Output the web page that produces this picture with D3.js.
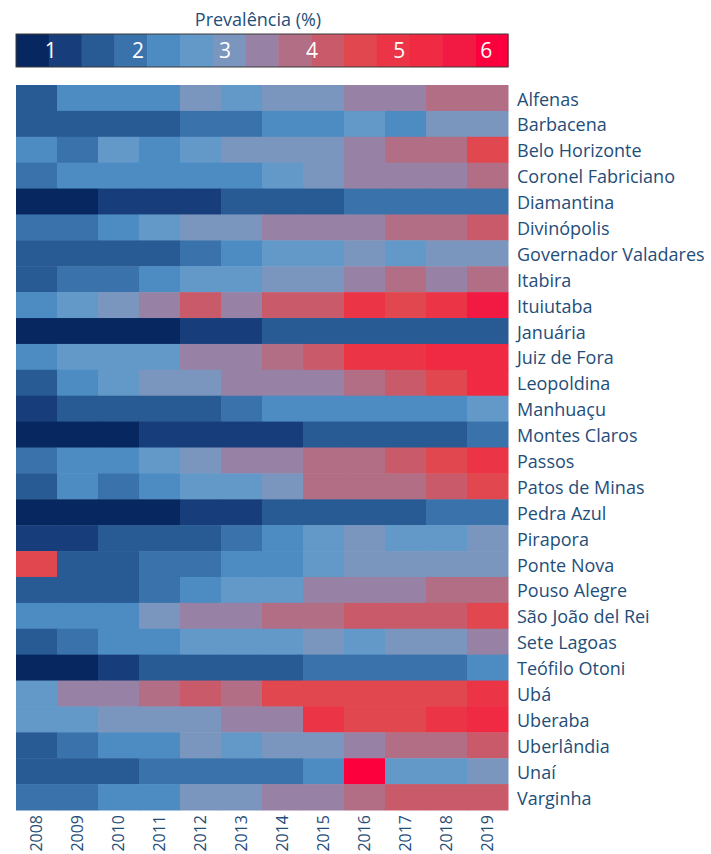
<!DOCTYPE html>
<html>
<head>
<meta charset="utf-8">
<script src="https://cdn.jsdelivr.net/npm/d3@7"></script>
<style>
  html, body { margin: 0; padding: 0; background: #fff; }
  svg { display: block; font-family: "Open Sans", Lato, sans-serif; }
</style>
</head>
<body>
<svg id="chart" width="711" height="854"></svg>
<script>
// Prevalência anual (%) por município, 2008–2019
const years = ["2008","2009","2010","2011","2012","2013","2014","2015","2016","2017","2018","2019"];

const cities = [
  "Alfenas", "Barbacena", "Belo Horizonte", "Coronel Fabriciano", "Diamantina",
  "Divinópolis", "Governador Valadares", "Itabira", "Ituiutaba", "Januária",
  "Juiz de Fora", "Leopoldina", "Manhuaçu", "Montes Claros", "Passos",
  "Patos de Minas", "Pedra Azul", "Pirapora", "Ponte Nova", "Pouso Alegre",
  "São João del Rei", "Sete Lagoas", "Teófilo Otoni", "Ubá", "Uberaba",
  "Uberlândia", "Unaí", "Varginha"
];

const prevalence = [
  [1.5, 2.3, 2.3, 2.3, 3.0, 2.7, 3.0, 3.0, 3.4, 3.4, 3.8, 3.8], // Alfenas
  [1.5, 1.5, 1.5, 1.5, 1.9, 1.9, 2.3, 2.3, 2.7, 2.3, 3.0, 3.0], // Barbacena
  [2.3, 1.9, 2.7, 2.3, 2.7, 3.0, 3.0, 3.0, 3.4, 3.8, 3.8, 4.5], // Belo Horizonte
  [1.9, 2.3, 2.3, 2.3, 2.3, 2.3, 2.7, 3.0, 3.4, 3.4, 3.4, 3.8], // Coronel Fabriciano
  [0.8, 0.8, 1.2, 1.2, 1.2, 1.5, 1.5, 1.5, 1.9, 1.9, 1.9, 1.9], // Diamantina
  [1.9, 1.9, 2.3, 2.7, 3.0, 3.0, 3.4, 3.4, 3.4, 3.8, 3.8, 4.2], // Divinópolis
  [1.5, 1.5, 1.5, 1.5, 1.9, 2.3, 2.7, 2.7, 3.0, 2.7, 3.0, 3.0], // Governador Valadares
  [1.5, 1.9, 1.9, 2.3, 2.7, 2.7, 3.0, 3.0, 3.4, 3.8, 3.4, 3.8], // Itabira
  [2.3, 2.7, 3.0, 3.4, 4.2, 3.4, 4.2, 4.2, 4.9, 4.5, 4.9, 5.7], // Ituiutaba
  [0.8, 0.8, 0.8, 0.8, 1.2, 1.2, 1.5, 1.5, 1.5, 1.5, 1.5, 1.5], // Januária
  [2.3, 2.7, 2.7, 2.7, 3.4, 3.4, 3.8, 4.2, 4.9, 4.9, 5.3, 5.3], // Juiz de Fora
  [1.5, 2.3, 2.7, 3.0, 3.0, 3.4, 3.4, 3.4, 3.8, 4.2, 4.5, 5.3], // Leopoldina
  [1.2, 1.5, 1.5, 1.5, 1.5, 1.9, 2.3, 2.3, 2.3, 2.3, 2.3, 2.7], // Manhuaçu
  [0.8, 0.8, 0.8, 1.2, 1.2, 1.2, 1.2, 1.5, 1.5, 1.5, 1.5, 1.9], // Montes Claros
  [1.9, 2.3, 2.3, 2.7, 3.0, 3.4, 3.4, 3.8, 3.8, 4.2, 4.5, 4.9], // Passos
  [1.5, 2.3, 1.9, 2.3, 2.7, 2.7, 3.0, 3.8, 3.8, 3.8, 4.2, 4.5], // Patos de Minas
  [0.8, 0.8, 0.8, 0.8, 1.2, 1.2, 1.5, 1.5, 1.5, 1.5, 1.9, 1.9], // Pedra Azul
  [1.2, 1.2, 1.5, 1.5, 1.5, 1.9, 2.3, 2.7, 3.0, 2.7, 2.7, 3.0], // Pirapora
  [4.5, 1.5, 1.5, 1.9, 1.9, 2.3, 2.3, 2.7, 3.0, 3.0, 3.0, 3.0], // Ponte Nova
  [1.5, 1.5, 1.5, 1.9, 2.3, 2.7, 2.7, 3.4, 3.4, 3.4, 3.8, 3.8], // Pouso Alegre
  [2.3, 2.3, 2.3, 3.0, 3.4, 3.4, 3.8, 3.8, 4.2, 4.2, 4.2, 4.5], // São João del Rei
  [1.5, 1.9, 2.3, 2.3, 2.7, 2.7, 2.7, 3.0, 2.7, 3.0, 3.0, 3.4], // Sete Lagoas
  [0.8, 0.8, 1.2, 1.5, 1.5, 1.5, 1.5, 1.9, 1.9, 1.9, 1.9, 2.3], // Teófilo Otoni
  [2.7, 3.4, 3.4, 3.8, 4.2, 3.8, 4.5, 4.5, 4.5, 4.5, 4.5, 4.9], // Ubá
  [2.7, 2.7, 3.0, 3.0, 3.0, 3.4, 3.4, 4.9, 4.5, 4.5, 4.9, 5.3], // Uberaba
  [1.5, 1.9, 2.3, 2.3, 3.0, 2.7, 3.0, 3.0, 3.4, 3.8, 3.8, 4.2], // Uberlândia
  [1.5, 1.5, 1.5, 1.9, 1.9, 1.9, 1.9, 2.3, 6.1, 2.7, 2.7, 3.0], // Unaí
  [1.9, 1.9, 2.3, 2.3, 3.0, 3.0, 3.4, 3.4, 3.8, 4.2, 4.2, 4.2]  // Varginha
];

// Escala de cores em 15 classes, do azul-marinho ao vermelho
const palette = [
  "#06275F", "#173E7A", "#285A94", "#3A73AB", "#4C8CC2",
  "#6399C9", "#7B96BE", "#9782A5", "#B16E84", "#C95A6A",
  "#E1474F", "#EB3446", "#F02A42", "#F21A42", "#FB003C"
];
const colorDomain = [0.6, 6.25];
const legendTicks = [1, 2, 3, 4, 5, 6];

const textColor = "#1F4E79";
const fontStack = "'Open Sans', Lato, sans-serif";
const svg = d3.select("#chart");

const plotLeft = 16, plotRight = 508, plotTop = 85, plotBottom = 810;

const x = d3.scaleBand().domain(years).range([plotLeft, plotRight]).padding(0);
const y = d3.scaleBand().domain(cities).range([plotTop, plotBottom]).padding(0);
const color = d3.scaleQuantize().domain(colorDomain).range(palette);

// Células do mapa de calor
const cells = [];
prevalence.forEach((row, i) => row.forEach((v, j) => cells.push({ city: cities[i], year: years[j], value: v })));

svg.append("g")
  .selectAll("rect")
  .data(cells)
  .join("rect")
  .attr("x", d => x(d.year))
  .attr("y", d => y(d.city))
  .attr("width", x.bandwidth() + 0.5)
  .attr("height", y.bandwidth() + 0.5)
  .attr("fill", d => color(d.value));

// Rótulos dos municípios (eixo direito)
const yAxis = svg.append("g")
  .attr("transform", `translate(${plotRight},0)`)
  .call(d3.axisRight(y).tickSize(0).tickPadding(9));
yAxis.select(".domain").remove();
yAxis.selectAll("text")
  .attr("fill", textColor)
  .attr("dy", "0.42em")
  .style("font-size", "18px")
  .style("font-family", fontStack);

// Rótulos dos anos (eixo inferior, girados)
const xAxis = svg.append("g")
  .attr("transform", `translate(0,${plotBottom})`)
  .call(d3.axisBottom(x).tickSize(0).tickPadding(0));
xAxis.select(".domain").remove();
xAxis.selectAll("text")
  .attr("fill", textColor)
  .style("font-size", "16px")
  .style("font-family", fontStack)
  .attr("text-anchor", "end")
  .attr("dy", "0.36em")
  .attr("transform", "rotate(-90)")
  .attr("x", -5)
  .attr("y", 0);

// Legenda
const legX = d3.scaleLinear().domain(colorDomain).range([plotLeft, plotRight]);
const legTop = 34, legH = 33;
const legend = svg.append("g");

legend.selectAll("rect.bin")
  .data(palette)
  .join("rect")
  .attr("class", "bin")
  .attr("x", c => legX(color.invertExtent(c)[0]))
  .attr("y", legTop)
  .attr("width", c => legX(color.invertExtent(c)[1]) - legX(color.invertExtent(c)[0]) + 0.5)
  .attr("height", legH)
  .attr("fill", c => c);

legend.append("rect")
  .attr("x", plotLeft)
  .attr("y", legTop)
  .attr("width", plotRight - plotLeft)
  .attr("height", legH)
  .attr("fill", "none")
  .attr("stroke", "#3a3a3a")
  .attr("stroke-width", 1);

legend.selectAll("text.tick")
  .data(legendTicks)
  .join("text")
  .attr("class", "tick")
  .attr("x", v => legX(v))
  .attr("y", legTop + legH / 2)
  .attr("dy", "0.36em")
  .attr("text-anchor", "middle")
  .attr("fill", "#fff")
  .style("font-size", "21px")
  .text(d => d);

legend.append("text")
  .attr("x", 258)
  .attr("y", 26)
  .attr("text-anchor", "middle")
  .attr("fill", textColor)
  .style("font-size", "18px")
  .text("Prevalência (%)");
</script>
</body>
</html>
